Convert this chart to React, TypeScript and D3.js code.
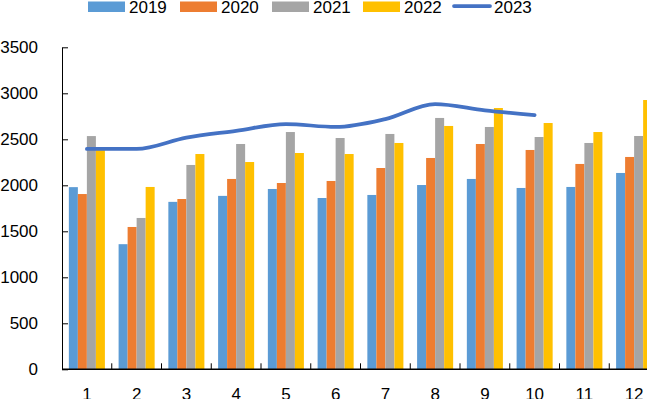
import { useEffect, useRef } from 'react';
import * as d3 from 'd3';

const months = ['1', '2', '3', '4', '5', '6', '7', '8', '9', '10', '11', '12'];
const barSeries = ['2019', '2020', '2021', '2022'];
const v2019 = [1980, 1360, 1820, 1885, 1960, 1862, 1895, 2003, 2069, 1971, 1982, 2134];
const v2020 = [1905, 1547, 1851, 2069, 2025, 2047, 2188, 2297, 2449, 2384, 2232, 2308];
const v2021 = [2535, 1645, 2221, 2449, 2579, 2514, 2558, 2732, 2634, 2525, 2460, 2536];
const v2022 = [2382, 1982, 2340, 2253, 2351, 2340, 2460, 2645, 2840, 2677, 2579, 2927];
const v2023 = [2395, 2395, 2518, 2592, 2666, 2634, 2720, 2882, 2815, 2762];
const yTicks = [0, 500, 1000, 1500, 2000, 2500, 3000, 3500];
const colors = ['#5B9BD5', '#ED7D31', '#A5A5A5', '#FFC000'];
const lineColor = '#4472C4';

function Chart() {
  const ref = useRef<SVGSVGElement>(null);

  useEffect(() => {
    const svg = d3.select(ref.current);
    svg.selectAll('*').remove();

    const width = 647;
    const height = 399;
    const left = 62;
    const top = 47.3;
    const bottom = 369.3;
    const step = 49.75;
    const font = '"Liberation Sans", Arial, sans-serif';
    const fontSize = '17px';

    svg.attr('width', width).attr('height', height);

    const x0 = d3.scaleBand().domain(months).range([left, left + step * months.length]).padding(0);
    const x1 = d3.scaleBand().domain(barSeries).range([0, x0.bandwidth()]).paddingInner(0).paddingOuter(0.76);
    const y = d3.scaleLinear().domain([0, 3500]).range([bottom, top]);

    const values = [v2019, v2020, v2021, v2022];

    // bars
    const groups = svg.append('g')
      .selectAll('g')
      .data(months)
      .enter()
      .append('g')
      .attr('transform', (m) => `translate(${x0(m)},0)`);

    groups.selectAll('rect')
      .data((m, i) => barSeries.map((s, j) => ({ s, v: values[j][i], j })))
      .enter()
      .append('rect')
      .attr('x', (d) => x1(d.s)!)
      .attr('y', (d) => y(d.v))
      .attr('width', x1.bandwidth())
      .attr('height', (d) => bottom - y(d.v))
      .attr('fill', (d) => colors[d.j]);

    // 2023 line
    const line = d3.line<number>()
      .x((d, i) => x0(months[i])! + x0.bandwidth() / 2)
      .y((d) => y(d))
      .curve(d3.curveMonotoneX);

    svg.append('path')
      .datum(v2023)
      .attr('d', line)
      .attr('fill', 'none')
      .attr('stroke', lineColor)
      .attr('stroke-width', 3.75)
      .attr('stroke-linecap', 'round')
      .attr('stroke-linejoin', 'round');

    // y axis
    const yAxis = d3.axisLeft(y)
      .tickValues(yTicks)
      .tickFormat(d3.format('d'))
      .tickSizeInner(-6)
      .tickSizeOuter(0)
      .tickPadding(24);
    const gy = svg.append('g').attr('transform', `translate(${left},0)`).call(yAxis);
    gy.selectAll('text')
      .style('font-family', font)
      .style('font-size', fontSize)
      .style('fill', '#000');
    gy.selectAll('.domain, .tick line').style('stroke', '#000').style('stroke-width', 1);

    // x axis
    const gx = svg.append('g').attr('transform', `translate(0,${bottom})`);
    gx.append('line')
      .attr('x1', left).attr('x2', left + step * months.length)
      .attr('y1', 0).attr('y2', 0)
      .attr('stroke', '#000').attr('stroke-width', 1.5);
    gx.selectAll('line.tk')
      .data(months.slice(1))
      .enter()
      .append('line')
      .attr('class', 'tk')
      .attr('x1', (m) => x0(m)!).attr('x2', (m) => x0(m)!)
      .attr('y1', -6).attr('y2', 0)
      .attr('stroke', '#000');
    gx.selectAll('text')
      .data(months)
      .enter()
      .append('text')
      .attr('x', (m) => x0(m)! + x0.bandwidth() / 2)
      .attr('y', 31)
      .attr('text-anchor', 'middle')
      .style('font-family', font)
      .style('font-size', fontSize)
      .text((m) => m);

    // legend
    const legendX = [88, 180, 272, 363];
    const legend = svg.append('g');
    barSeries.forEach((s, i) => {
      legend.append('rect')
        .attr('x', legendX[i]).attr('y', 1.5)
        .attr('width', 37).attr('height', 10.5)
        .attr('fill', colors[i]);
      legend.append('text')
        .attr('x', legendX[i] + 41).attr('y', 12.5)
        .style('font-family', font)
        .style('font-size', fontSize)
        .text(s);
    });
    legend.append('line')
      .attr('x1', 454).attr('x2', 490)
      .attr('y1', 6).attr('y2', 6)
      .attr('stroke', lineColor)
      .attr('stroke-width', 3.75)
      .attr('stroke-linecap', 'round');
    legend.append('text')
      .attr('x', 494).attr('y', 12.5)
      .style('font-family', font)
      .style('font-size', fontSize)
      .text('2023');
  }, []);

  return <svg ref={ref} style={{ display: 'block', position: 'absolute', left: 0, top: 0 }}></svg>;
}

export default function App() {
  return <Chart />;
}
